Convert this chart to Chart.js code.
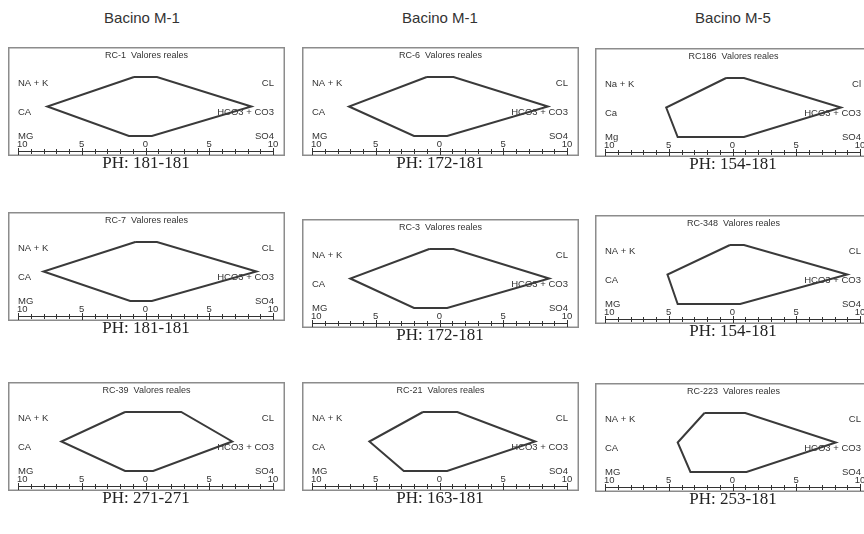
<!DOCTYPE html>
<html>
<head>
<meta charset="utf-8">
<script src="https://cdn.jsdelivr.net/npm/chart.js@4.4.1/dist/chart.umd.min.js"></script>
<style>
  html, body { margin: 0; padding: 0; background: #fff; overflow: hidden; }
  body { width: 864px; height: 534px; position: relative; }
  .head { position: absolute; font-family: "Liberation Sans", Arial, sans-serif; font-size: 15px; color: #333; transform: translate(-50%, -50%); white-space: nowrap; }
  .ph { position: absolute; font-family: "Liberation Serif", "Times New Roman", serif; font-size: 17px; color: #222; transform: translate(-50%, -50%); white-space: nowrap; }
  canvas { position: absolute; }
</style>
</head>
<body>
<script>
// column headers and panel names
const basinNames = ['Bacino M-1', 'Bacino M-1', 'Bacino M-5'];
const sampleNames = ['RC-1', 'RC-6', 'RC186', 'RC-7', 'RC-3', 'RC-348', 'RC-39', 'RC-21', 'RC-223'];
const phRanges = ['PH: 181-181', 'PH: 172-181', 'PH: 154-181', 'PH: 181-181', 'PH: 172-181', 'PH: 154-181', 'PH: 271-271', 'PH: 163-181', 'PH: 253-181'];

// stiff values (meq/l), cations to the left, anions to the right
const naK  = [0.9, 1.0, 0.5, 0.8, 0.8, 0.2, 1.6, 1.3, 2.2];
const ca   = [7.7, 7.1, 5.2, 8.0, 7.0, 5.1, 6.6, 5.5, 4.3];
const mg   = [1.3, 2.0, 4.3, 1.2, 2.0, 4.3, 1.6, 2.8, 3.3];
const cl   = [0.9, 1.1, 0.9, 0.9, 1.1, 0.9, 2.8, 1.4, 1.0];
const hco3 = [8.3, 8.5, 8.5, 8.7, 8.6, 9.0, 6.8, 7.5, 8.1];
const so4  = [0.5, 0.6, 0.9, 0.5, 0.6, 0.6, 0.6, 0.6, 1.1];

const cationLabels = ['NA + K', 'CA', 'MG'];
const anionLabels = ['CL', 'HCO3 + CO3', 'SO4'];
const cationLabelsLower = ['Na + K', 'Ca', 'Mg'];
const anionLabelsLower = ['Cl', 'HCO3 + CO3', 'SO4'];
const axisLabels = [-10, -5, 0, 5, 10];

// layout
const colCenters = [142, 440, 733];
const panelLeft = [8, 302, 595];
const panelTop = [47, 47, 48, 212, 219, 215, 382, 382, 383];
const panelWidth = 277;
const panelHeight = 109;

basinNames.forEach((name, i) => {
  const d = document.createElement('div');
  d.className = 'head';
  d.textContent = name;
  d.style.left = colCenters[i] + 'px';
  d.style.top = '17px';
  document.body.appendChild(d);
});

const stiffFrame = {
  id: 'stiffFrame',
  beforeDatasetsDraw(chart, args, opts) {
    const { ctx, scales: { x, y } } = chart;
    const w = chart.width;
    const h = chart.height;
    ctx.save();
    // frame
    ctx.strokeStyle = '#8c8c8c';
    ctx.lineWidth = 1.5;
    ctx.strokeRect(0.75, 0.75, w - 1.5, h - 1.5);

    ctx.fillStyle = '#333';
    ctx.font = '9px "Liberation Sans", Arial, sans-serif';
    ctx.textAlign = 'center';
    ctx.textBaseline = 'middle';
    ctx.fillText(opts.title + '  Valores reales', w / 2, 9);

    // row labels
    ctx.font = '9.5px "Liberation Sans", Arial, sans-serif';
    for (let r = 0; r < 3; r++) {
      const py = y.getPixelForValue(r) + (r === 2 ? 0.5 : 6);
      ctx.textAlign = 'left';
      ctx.fillText(opts.left[r], 10, py);
      ctx.textAlign = 'right';
      ctx.fillText(opts.right[r], w - 11, py);
    }

    // bottom scale
    const baseY = 104;
    ctx.strokeStyle = '#333';
    ctx.lineWidth = 1;
    ctx.beginPath();
    ctx.moveTo(x.getPixelForValue(-10), baseY + 0.5);
    ctx.lineTo(x.getPixelForValue(10), baseY + 0.5);
    for (let v = -10; v <= 10; v++) {
      const px = Math.round(x.getPixelForValue(v)) + 0.5;
      const len = v % 5 === 0 ? 3.5 : 2.5;
      ctx.moveTo(px, baseY + 0.5 - len);
      ctx.lineTo(px, baseY + 0.5 + len);
    }
    ctx.stroke();

    ctx.font = '9.5px "Liberation Sans", Arial, sans-serif';
    axisLabels.forEach((v, i) => {
      const px = x.getPixelForValue(v);
      ctx.textAlign = i === 0 ? 'left' : 'center';
      ctx.fillText(String(Math.abs(v)), i === 0 ? px - 1 : px, 97);
    });
    ctx.restore();
  },
};

sampleNames.forEach((name, i) => {
  const col = i % 3;
  const h = panelHeight;
  const canvas = document.createElement('canvas');
  canvas.width = panelWidth;
  canvas.height = h;
  canvas.style.left = panelLeft[col] + 'px';
  canvas.style.top = panelTop[i] + 'px';
  document.body.appendChild(canvas);

  const lower = name === 'RC186';
  const outline = [
    { x: -naK[i], y: 0 },
    { x: cl[i], y: 0 },
    { x: hco3[i], y: 1 },
    { x: so4[i], y: 2 },
    { x: -mg[i], y: 2 },
    { x: -ca[i], y: 1 },
    { x: -naK[i], y: 0 },
  ];

  new Chart(canvas, {
    type: 'scatter',
    data: {
      datasets: [
        {
          data: outline,
          showLine: true,
          borderColor: '#3a3a3a',
          borderWidth: 2,
          pointRadius: 0,
          clip: false,
        },
      ],
    },
    options: {
      responsive: false,
      animation: false,
      devicePixelRatio: 1,
      layout: {
        padding: { left: 10, right: panelWidth - 265, top: 30, bottom: h - 89 },
      },
      scales: {
        x: { type: 'linear', min: -10, max: 10, display: false },
        y: { type: 'linear', min: 0, max: 2, reverse: true, display: false },
      },
      plugins: {
        legend: { display: false },
        tooltip: { enabled: false },
        stiffFrame: {
          title: name,
          left: lower ? cationLabelsLower : cationLabels,
          right: lower ? anionLabelsLower : anionLabels,
        },
      },
    },
    plugins: [stiffFrame],
  });

  const ph = document.createElement('div');
  ph.className = 'ph';
  ph.textContent = phRanges[i];
  ph.style.left = (panelLeft[col] + 138) + 'px';
  ph.style.top = (panelTop[i] + h + 7) + 'px';
  document.body.appendChild(ph);
});
</script>
</body>
</html>
